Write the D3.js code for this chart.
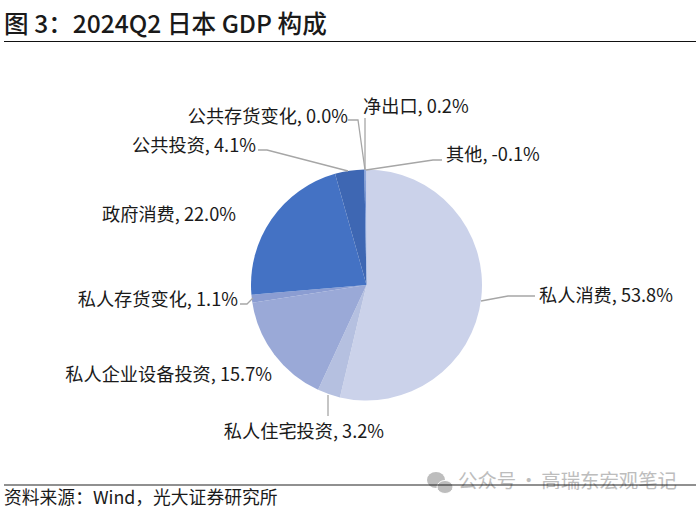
<!DOCTYPE html>
<html lang="zh-CN">
<head>
<meta charset="UTF-8">
<title>图 3：2024Q2 日本 GDP 构成</title>
<script src="https://d3js.org/d3.v7.min.js"></script>
<style>
    html, body { margin: 0; padding: 0; background: #fff; }
    svg { display: block; }
    text { font-family: "Noto Sans CJK SC", "Noto Sans", sans-serif; fill: #1a1a1a; }
    .label { font-size: 18.2px; }
    .leader { fill: none; stroke: #a6a6a6; stroke-width: 1.3; }
</style>
</head>
<body>
<svg id="chart" width="700" height="511"></svg>
<script>
// data, clockwise from 12 o'clock
const categories = ["私人消费", "私人住宅投资", "私人企业设备投资", "私人存货变化", "政府消费", "公共投资", "公共存货变化", "净出口", "其他"];
const shares = [53.8, 3.2, 15.7, 1.1, 22.0, 4.1, 0.0, 0.2, -0.1];
const colors = ["#cbd2ea", "#b5c0e0", "#9aa9d7", "#8b9dd2", "#4472c4", "#3e67b3", "#3a5fa8", "#6f8fd0", "#a9b8e2"];

// label anchors and leader lines, same order as categories
const labelAt = [[539, 294, "start"], [304, 430, "middle"], [272, 373, "end"], [238, 298, "end"], [236, 213, "end"], [256, 144, "end"], [348, 115, "end"], [363, 105, "start"], [446, 153, "start"]];
const leaders = [
    [[481, 301], [508, 296], [535, 296]],
    [[328, 395], [328, 416]],
    null,
    [[253, 298], [247, 304], [240, 304]],
    null,
    [[348, 171], [267, 150], [258, 150]],
    [[365, 170], [358, 120], [348, 120]],
    [[365, 170], [365, 118]],
    [[366, 170], [433, 160], [442, 160]]
];

const svg = d3.select("#chart");
const cx = 366.5, cy = 285, radius = 115.5;

// title + rules
svg.append("text").attr("x", 4).attr("y", 33)
    .style("font-size", "24.6px").style("font-weight", 500)
    .text("图 3：2024Q2 日本 GDP 构成");
svg.append("line").attr("x1", 4).attr("x2", 696).attr("y1", 41.5).attr("y2", 41.5)
    .attr("stroke", "#111").attr("stroke-width", 1.2);

// watermark sits under the bottom rule
const mark = svg.append("g").attr("fill", "#bdbdbd");
mark.append("ellipse").attr("cx", 436).attr("cy", 480).attr("rx", 9).attr("ry", 8);
mark.append("ellipse").attr("cx", 445).attr("cy", 487).attr("rx", 8).attr("ry", 6.5).attr("stroke", "#fff");
svg.append("text").attr("x", 458).attr("y", 488)
    .style("font-size", "19.4px").style("fill", "#bdbdbd").style("word-spacing", "-1.5px")
    .text("公众号 · 高瑞东宏观笔记");

svg.append("line").attr("x1", 4).attr("x2", 696).attr("y1", 485).attr("y2", 485)
    .attr("stroke", "#222").attr("stroke-width", 1.2);
svg.append("text").attr("x", 4).attr("y", 504)
    .style("font-size", "17.8px")
    .text("资料来源：Wind，光大证券研究所");

// pie, excel style: negative share is drawn by its absolute size
const pie = d3.pie().sort(null).value(d => Math.abs(d.value));
const arc = d3.arc().innerRadius(0).outerRadius(radius);
const rows = categories.map((name, i) => ({ name, value: shares[i], i }));

const g = svg.append("g").attr("transform", `translate(${cx},${cy})`);
g.selectAll("path")
    .data(pie(rows))
    .enter().append("path")
    .attr("d", arc)
    .attr("fill", d => colors[d.data.i]);

const line = d3.line();
svg.selectAll(".leader")
    .data(leaders.filter(d => d))
    .enter().append("path")
    .attr("class", "leader")
    .attr("d", line);

svg.selectAll(".label")
    .data(rows)
    .enter().append("text")
    .attr("class", "label")
    .attr("x", d => labelAt[d.i][0])
    .attr("y", d => labelAt[d.i][1])
    .attr("dy", "0.44em")
    .attr("text-anchor", d => labelAt[d.i][2])
    .text(d => `${d.name}, ${d.value.toFixed(1)}%`);
</script>
</body>
</html>
